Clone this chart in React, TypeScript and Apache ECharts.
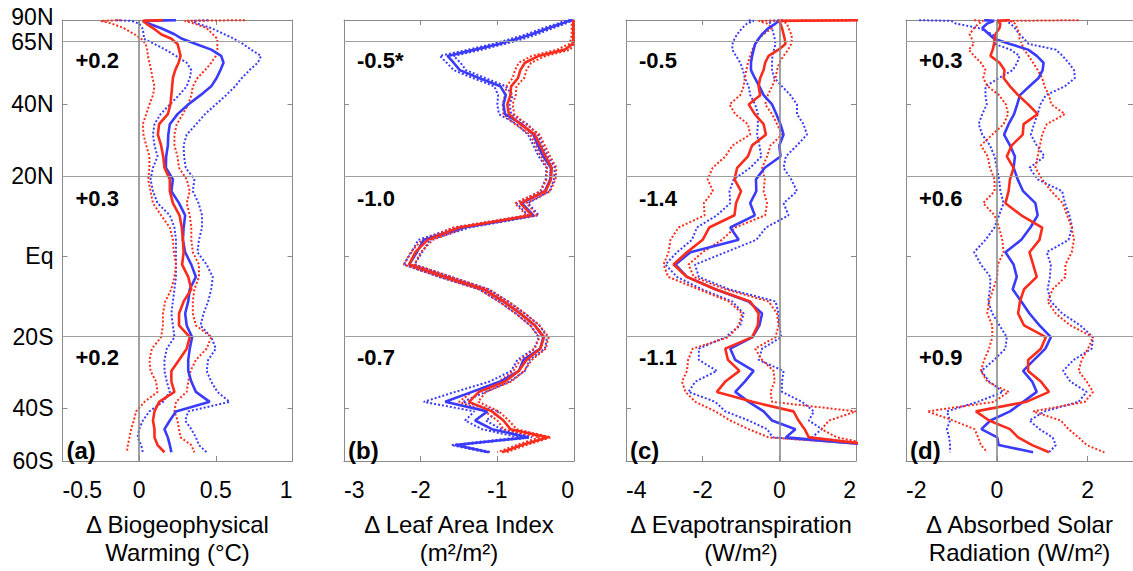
import React, { useEffect, useRef } from 'react';
import * as echarts from 'echarts';

// Latitudes (degrees) at which the profiles were read, north to south
const LAT = [88, 85, 80, 75, 70, 67, 64, 61, 58, 55, 52, 49, 46, 43, 40, 37, 34, 31, 28, 25, 22, 19, 16, 13, 10, 7, 4, 1, -2, -5, -8, -11, -14, -17, -20, -23, -26, -29, -32, -35, -38, -41, -44, -47, -50, -53, -56];

const Y_LABEL_LATS = [90, 65, 40, 20, 0, -20, -40, -60];
const Y_LABELS = ['90N', '65N', '40N', '20N', 'Eq', '20S', '40S', '60S'];
const GRID_LINE_LATS = [65, 20, -20];
const INNER_TICK_LATS = [40, 0, -40];

// (a) Biogeophysical warming
const A_BLUE = [0.24, 0.035, 0.06, 0.14, 0.23, 0.28, 0.37, 0.47, 0.535, 0.55, 0.53, 0.505, 0.47, 0.40, 0.32, 0.25, 0.20, 0.19, 0.187, 0.176, 0.174, 0.22, 0.21, 0.26, 0.30, 0.29, 0.285, 0.30, 0.34, 0.37, 0.33, 0.32, 0.30, 0.31, 0.345, 0.33, 0.32, 0.32, 0.34, 0.37, 0.46, 0.24, 0.20, 0.165, 0.187, 0.20, 0.21];
const A_RED = [0.154, 0.024, 0.046, 0.09, 0.143, 0.21, 0.25, 0.26, 0.27, 0.257, 0.235, 0.22, 0.215, 0.21, 0.204, 0.187, 0.13, 0.122, 0.143, 0.157, 0.165, 0.20, 0.20, 0.22, 0.263, 0.278, 0.285, 0.29, 0.28, 0.32, 0.34, 0.29, 0.26, 0.26, 0.33, 0.31, 0.26, 0.21, 0.21, 0.23, 0.13, 0.10, 0.09, 0.10, 0.10, 0.12, 0.165];
const A_BLUE_HI = [0.45, 0.34, 0.38, 0.47, 0.556, 0.62, 0.676, 0.73, 0.795, 0.774, 0.72, 0.67, 0.626, 0.567, 0.50, 0.43, 0.372, 0.31, 0.29, 0.293, 0.304, 0.36, 0.35, 0.387, 0.41, 0.41, 0.39, 0.38, 0.44, 0.48, 0.47, 0.45, 0.42, 0.40, 0.47, 0.50, 0.45, 0.44, 0.47, 0.51, 0.59, 0.32, 0.30, 0.34, 0.37, 0.39, 0.44];
const A_BLUE_LO = [-0.15, -0.05, 0.0, 0.02, 0.03, 0.03, 0.10, 0.17, 0.24, 0.31, 0.34, 0.33, 0.31, 0.26, 0.20, 0.14, 0.10, 0.09, 0.10, 0.12, 0.09, 0.074, 0.09, 0.12, 0.20, 0.23, 0.24, 0.24, 0.24, 0.24, 0.23, 0.22, 0.21, 0.22, 0.23, 0.18, 0.165, 0.165, 0.18, 0.20, 0.155, 0.067, 0.024, 0.0, -0.01, 0.013, 0.024];
const A_RED_HI = [0.69, 0.296, 0.36, 0.44, 0.48, 0.51, 0.51, 0.51, 0.50, 0.47, 0.43, 0.38, 0.35, 0.34, 0.32, 0.285, 0.245, 0.23, 0.23, 0.25, 0.26, 0.31, 0.33, 0.31, 0.33, 0.34, 0.34, 0.35, 0.39, 0.39, 0.36, 0.35, 0.35, 0.37, 0.47, 0.44, 0.37, 0.335, 0.32, 0.31, 0.24, 0.23, 0.25, 0.26, 0.27, 0.34, 0.36];
const A_RED_LO = [-0.12, -0.25, -0.18, -0.10, -0.03, 0.013, 0.043, 0.052, 0.057, 0.067, 0.078, 0.087, 0.10, 0.09, 0.067, 0.046, 0.024, 0.028, 0.046, 0.067, 0.067, 0.059, 0.074, 0.09, 0.143, 0.20, 0.22, 0.226, 0.24, 0.23, 0.21, 0.17, 0.155, 0.155, 0.143, 0.083, 0.067, 0.074, 0.11, 0.12, 0.035, -0.02, -0.035, -0.052, -0.063, -0.074, -0.08];

// (b) Leaf area index
const B_BLUE = [-0.02, -0.07, -0.16, -0.33, -0.55, -0.74, -0.98, -1.29, -1.65, -1.57, -1.49, -1.24, -0.96, -0.89, -0.92, -0.90, -0.68, -0.53, -0.47, -0.40, -0.30, -0.31, -0.38, -0.68, -0.53, -1.45, -1.96, -2.05, -2.15, -1.68, -1.18, -0.92, -0.70, -0.51, -0.40, -0.44, -0.66, -0.72, -0.96, -1.33, -1.68, -1.13, -1.29, -1.07, -0.60, -1.55, -1.11];
const B_RED = [-0.01, -0.01, -0.01, -0.01, -0.01, -0.01, -0.02, -0.12, -0.46, -0.64, -0.70, -0.73, -0.82, -0.83, -0.87, -0.85, -0.70, -0.51, -0.44, -0.37, -0.29, -0.30, -0.37, -0.70, -0.55, -1.50, -1.91, -2.07, -2.15, -1.68, -1.18, -0.92, -0.70, -0.51, -0.39, -0.44, -0.62, -0.72, -0.90, -1.24, -1.37, -1.07, -0.92, -0.83, -0.34, -0.68, -0.94];
const B_BLUE_LO = [-0.05, -0.12, -0.22, -0.40, -0.62, -0.82, -1.06, -1.38, -1.75, -1.66, -1.57, -1.32, -1.04, -0.99, -1.0, -0.98, -0.75, -0.60, -0.53, -0.46, -0.36, -0.37, -0.44, -0.75, -0.60, -1.55, -2.03, -2.12, -2.22, -1.76, -1.24, -0.98, -0.76, -0.57, -0.46, -0.52, -0.74, -0.82, -1.10, -1.55, -1.96, -1.30, -1.42, -1.20, -0.72, -1.60, -1.15];
const B_BLUE_HI = [0.0, -0.03, -0.11, -0.27, -0.48, -0.66, -0.90, -1.20, -1.57, -1.48, -1.41, -1.16, -0.89, -0.80, -0.84, -0.82, -0.61, -0.47, -0.41, -0.34, -0.25, -0.26, -0.32, -0.60, -0.46, -1.36, -1.88, -1.98, -2.08, -1.60, -1.11, -0.86, -0.64, -0.45, -0.35, -0.38, -0.58, -0.64, -0.84, -1.15, -1.45, -0.98, -1.15, -0.95, -0.55, -1.50, -1.08];
const B_RED_LO = [-0.02, -0.03, -0.03, -0.03, -0.03, -0.04, -0.06, -0.22, -0.55, -0.72, -0.77, -0.80, -0.88, -0.90, -0.93, -0.92, -0.77, -0.57, -0.50, -0.43, -0.35, -0.36, -0.43, -0.77, -0.62, -1.57, -1.98, -2.13, -2.22, -1.75, -1.24, -0.98, -0.76, -0.57, -0.45, -0.51, -0.70, -0.79, -0.98, -1.33, -1.50, -1.16, -1.00, -0.92, -0.45, -0.75, -1.0];
const B_RED_HI = [0.0, 0.0, 0.0, 0.0, 0.0, 0.0, 0.0, -0.05, -0.37, -0.56, -0.62, -0.65, -0.75, -0.76, -0.80, -0.78, -0.63, -0.45, -0.38, -0.31, -0.23, -0.24, -0.31, -0.62, -0.48, -1.42, -1.84, -2.0, -2.08, -1.60, -1.12, -0.86, -0.64, -0.45, -0.33, -0.37, -0.55, -0.65, -0.82, -1.15, -1.25, -0.98, -0.85, -0.75, -0.30, -0.62, -0.88];

// (c) Evapotranspiration
const C_BLUE = [0.0, -0.02, -0.10, -0.28, -0.45, -0.54, -0.63, -0.67, -0.71, -0.74, -0.74, -0.64, -0.52, -0.41, -0.19, -0.08, 0.03, 0.11, 0.0, 0.03, -0.38, -0.61, -0.60, -0.76, -0.64, -1.28, -1.06, -2.32, -2.71, -2.41, -1.67, -0.80, -0.45, -0.52, -0.70, -1.28, -1.15, -0.67, -0.90, -1.15, -0.80, -0.41, -0.19, 0.42, 0.17, 2.5, null];
const C_RED = [2.5, -0.02, 0.03, 0.07, 0.11, 0.14, 0.16, -0.02, -0.28, -0.37, -0.41, -0.50, -0.54, -0.50, -0.80, -0.64, -0.41, -0.35, -0.71, -0.82, -1.10, -1.17, -1.0, -1.13, -1.17, -1.83, -2.0, -2.41, -2.76, -2.41, -1.67, -0.76, -0.54, -0.56, -0.71, -1.41, -1.34, -1.04, -1.41, -1.63, -0.70, 0.37, 0.50, 0.66, 0.77, 2.5, null];
const C_BLUE_LO = [-0.8, -0.67, -0.84, -0.97, -1.1, -1.17, -1.22, -1.23, -1.13, -1.02, -0.95, -0.90, -0.80, -0.76, -0.63, -0.56, -0.56, -0.58, -0.52, -0.47, -0.76, -1.19, -1.30, -1.28, -1.63, -2.15, -2.28, -2.67, -2.97, -2.67, -2.02, -1.23, -0.93, -1.02, -1.41, -2.10, -2.10, -1.63, -2.19, -2.37, -1.67, -1.41, -0.80, -0.32, -0.17, 2.5, null];
const C_BLUE_HI = [0.1, -0.28, -0.23, -0.19, -0.15, -0.12, -0.10, -0.14, -0.18, -0.19, -0.19, -0.13, 0.07, 0.29, 0.46, 0.46, 0.63, 0.72, 0.46, 0.17, 0.11, 0.31, 0.46, 0.11, 0.24, -0.35, -0.6, -1.4, -2.2, -2.10, -1.32, -0.10, -0.02, 0.0, 0.05, -0.45, -0.54, 0.11, 0.07, 0.07, 0.59, 0.90, 0.77, 1.11, 0.85, 2.5, null];
const C_RED_LO = [2.5, -0.54, -0.32, -0.19, -0.41, -0.54, -0.63, -0.70, -0.76, -0.82, -0.86, -0.90, -0.93, -1.02, -1.30, -1.15, -0.82, -0.76, -1.22, -1.41, -1.74, -1.87, -1.73, -1.97, -1.95, -2.63, -2.84, -2.89, -3.02, -2.90, -2.1, -1.32, -0.97, -1.06, -1.32, -2.26, -2.38, -2.41, -2.54, -2.45, -2.19, -1.67, -1.28, -0.80, -0.28, 2.5, null];
const C_RED_HI = [2.5, 0.07, 0.20, 0.24, 0.31, 0.33, 0.31, 0.23, 0.11, 0.0, -0.06, -0.10, -0.19, -0.30, -0.37, -0.19, -0.06, 0.07, -0.23, -0.32, -0.45, -0.38, -0.41, -0.32, -0.37, -1.15, -1.50, -2.0, -2.37, -2.23, -1.41, -0.28, -0.06, -0.02, -0.10, -0.63, -0.45, -0.15, -0.12, -0.23, -0.19, 2.0, 1.3, 1.1, 1.5, 2.5, null];

// (d) Absorbed solar radiation
const D_BLUE = [-0.28, -0.06, -0.21, -0.32, -0.17, -0.06, 0.29, 0.69, 0.88, 1.03, 1.01, 0.92, 0.72, 0.51, 0.45, 0.38, 0.26, 0.16, 0.29, 0.40, 0.37, 0.46, 0.58, 0.85, 0.90, 0.74, 0.54, 0.19, 0.37, 0.44, 0.35, 0.54, 0.72, 0.94, 1.19, 1.07, 0.82, 0.58, 0.78, 0.88, 0.58, 0.29, -0.14, -0.34, 0.01, 0.04, 0.80];
const D_RED = [0.29, 0.01, 0.08, 0.06, -0.03, -0.05, -0.06, -0.09, -0.14, 0.06, 0.17, 0.15, 0.29, 0.47, 0.69, 0.90, 0.59, 0.57, 0.33, 0.22, 0.37, 0.29, 0.26, 0.19, 0.54, 1.0, 0.94, 0.72, 0.80, 0.88, 0.60, 0.51, 0.47, 0.60, 1.08, 0.97, 0.69, 0.69, 0.97, 1.15, 0.65, -0.46, -0.17, 0.29, 0.47, 0.78, 1.15];
const D_BLUE_LO = [-1.71, -1.0, -0.9, -0.4, -0.1, 0.0, -0.05, 0.3, 0.5, 0.45, 0.35, 0.05, -0.25, -0.25, -0.22, -0.32, -0.4, -0.32, -0.15, -0.05, 0.0, 0.05, 0.08, 0.15, 0.05, -0.05, -0.25, -0.5, -0.35, -0.14, -0.15, -0.19, -0.10, 0.06, 0.22, 0.19, -0.06, -0.34, -0.17, 0.14, -0.42, -1.10, -1.03, -1.10, -1.05, -1.03, -1.03];
const D_BLUE_HI = [0.0, 0.2, 0.3, 0.4, 0.5, 0.6, 0.7, 1.3, 1.45, 1.58, 1.7, 1.72, 1.5, 1.08, 0.96, 0.9, 0.82, 0.75, 0.88, 1.05, 0.72, 0.9, 1.44, 1.5, 1.6, 1.66, 1.58, 1.1, 1.19, 1.17, 1.12, 1.19, 1.44, 1.84, 2.12, 2.09, 1.69, 1.46, 1.62, 1.98, 1.80, 1.05, 0.72, 0.94, 1.23, 1.30, 1.15];
const D_RED_LO = [-0.5, -0.3, -0.4, -0.5, -0.6, -0.55, -0.5, -0.62, -0.5, -0.35, -0.25, -0.3, -0.2, 0.05, 0.2, 0.25, 0.15, -0.1, -0.35, -0.2, -0.15, -0.05, -0.05, -0.3, -0.05, 0.05, 0.12, 0.15, 0.02, 0.01, -0.08, -0.17, -0.21, -0.10, -0.10, -0.17, -0.28, -0.35, -0.21, 0.26, -0.06, -1.53, -0.96, -0.49, -0.41, -0.35, -0.21];
const D_RED_HI = [1.8, 0.3, 0.4, 0.45, 0.5, 0.5, 0.55, 0.6, 0.7, 0.8, 0.9, 1.0, 1.05, 1.15, 1.2, 1.5, 1.1, 1.0, 0.95, 0.9, 0.85, 1.0, 1.2, 1.45, 1.55, 1.65, 1.7, 1.65, 1.51, 1.51, 1.23, 1.12, 1.30, 1.62, 2.12, 2.01, 1.87, 1.80, 1.98, 2.12, 1.94, 0.80, 1.41, 1.58, 1.80, 1.98, 2.37];

const X_MIN = [-0.5, -3, -4, -2];
const X_MAX = [1, 0, 2, 3];
const X_INTERVAL = [0.5, 1, 2, 2];
const TITLES = [
  'Δ Biogeophysical\nWarming (°C)',
  'Δ Leaf Area Index\n(m²/m²)',
  'Δ Evapotranspiration\n(W/m²)',
  'Δ Absorbed Solar\nRadiation (W/m²)',
];
const PANEL_TAGS = ['(a)', '(b)', '(c)', '(d)'];
const ANNOTATIONS = [
  ['+0.2', '+0.3', '+0.2'],
  ['-0.5*', '-1.0', '-0.7'],
  ['-0.5', '-1.4', '-1.1'],
  ['+0.3', '+0.6', '+0.9'],
];

const BLUE = '#3b3bfb';
const RED = '#fb2c1c';
const FONT = '"Liberation Sans", Arial, Helvetica, sans-serif';

const GRID_LEFT = [62.5, 344, 626, 906];
const GRID_W = 230;
const GRID_TOP = 20;
const GRID_H = 445;
const ANN_Y = [60, 198.5, 357];
const TAG_Y = 450;

const toSin = (lat: number) => Math.sin((lat * Math.PI) / 180);
const pts = (vals: (number | null)[]) =>
  vals.map((v, i) => (v == null ? null : [v, toSin(LAT[i])])).filter((p) => p !== null);

const PANEL_DATA = [
  { blueLo: A_BLUE_LO, blueHi: A_BLUE_HI, redLo: A_RED_LO, redHi: A_RED_HI, blue: A_BLUE, red: A_RED },
  { blueLo: B_BLUE_LO, blueHi: B_BLUE_HI, redLo: B_RED_LO, redHi: B_RED_HI, blue: B_BLUE, red: B_RED },
  { blueLo: C_BLUE_LO, blueHi: C_BLUE_HI, redLo: C_RED_LO, redHi: C_RED_HI, blue: C_BLUE, red: C_RED },
  { blueLo: D_BLUE_LO, blueHi: D_BLUE_HI, redLo: D_RED_LO, redHi: D_RED_HI, blue: D_BLUE, red: D_RED },
];

function buildOption() {
  const grid: any[] = [];
  const xAxis: any[] = [];
  const yAxis: any[] = [];
  const series: any[] = [];
  const graphic: any[] = [];
  const yLabelVals = Y_LABEL_LATS.map(toSin);
  const innerTicks = INNER_TICK_LATS.map(toSin);
  const axisColor = '#8a8a8a';

  for (let i = 0; i < 4; i++) {
    grid.push({ left: GRID_LEFT[i], top: GRID_TOP, width: GRID_W, height: GRID_H, containLabel: false });
    const common = {
      gridIndex: i,
      type: 'value',
      min: X_MIN[i],
      max: X_MAX[i],
      interval: X_INTERVAL[i],
      splitLine: { show: false },
      axisLine: { show: true, onZero: false, lineStyle: { color: axisColor, width: 1 } },
      axisTick: { show: true, inside: true, length: 5, lineStyle: { color: axisColor } },
    };
    xAxis.push({
      ...common,
      position: 'bottom',
      axisLabel: {
        show: true,
        color: '#000',
        fontSize: 23,
        fontFamily: FONT,
        margin: 17,
        alignMinLabel: 'left',
        alignMaxLabel: i === 3 ? undefined : 'right',
        showMinLabel: true,
        showMaxLabel: i !== 3,
        formatter: (v: number) => String(v),
      },
      name: TITLES[i],
      nameLocation: 'middle',
      nameGap: 49,
      nameTextStyle: { color: '#000', fontSize: 24, lineHeight: 28, fontFamily: FONT },
    });
    xAxis.push({ ...common, position: 'top', axisLabel: { show: false } });

    const yCommon = {
      gridIndex: i,
      type: 'value',
      min: -toSin(60),
      max: 1,
      splitLine: { show: false },
      axisLine: { show: true, onZero: false, lineStyle: { color: axisColor, width: 1 } },
      axisTick: { show: true, inside: true, length: 5, customValues: innerTicks, lineStyle: { color: axisColor } },
    };
    yAxis.push({
      ...yCommon,
      position: 'left',
      axisLabel: {
        show: i === 0,
        customValues: yLabelVals,
        showMinLabel: true,
        showMaxLabel: true,
        hideOverlap: false,
        color: '#000',
        fontSize: 23,
        fontFamily: FONT,
        margin: 9,
        formatter: (v: number) => {
          let best = 0;
          for (let k = 1; k < yLabelVals.length; k++) {
            if (Math.abs(yLabelVals[k] - v) < Math.abs(yLabelVals[best] - v)) best = k;
          }
          return best === 0 ? '{top|' + Y_LABELS[best] + '}' : Y_LABELS[best];
        },
        rich: {
          top: { fontSize: 23, fontFamily: FONT, color: '#000', padding: [0, 0, 7, 0] },
        },
      },
    });
    yAxis.push({ ...yCommon, position: 'right', axisLabel: { show: false } });

    const xi = 2 * i;
    const markData: any[] = GRID_LINE_LATS.map((l) => ({ yAxis: toSin(l) }));
    if (X_MAX[i] > 0) markData.push({ xAxis: 0, lineStyle: { color: '#8a8a8a', width: 1.6, type: 'solid' } });
    series.push({
      type: 'line',
      xAxisIndex: xi,
      yAxisIndex: xi,
      data: [[X_MIN[i], 0]],
      symbol: 'none',
      silent: true,
      z: 1,
      lineStyle: { width: 0 },
      markLine: {
        silent: true,
        symbol: ['none', 'none'],
        label: { show: false },
        animation: false,
        lineStyle: { color: '#a0a0a0', width: 1, type: 'solid' },
        data: markData,
      },
    });

    const d = PANEL_DATA[i];
    const line = (vals: (number | null)[], color: string, dotted: boolean, z: number) => ({
      type: 'line',
      xAxisIndex: xi,
      yAxisIndex: xi,
      data: pts(vals),
      symbol: 'none',
      showSymbol: false,
      silent: true,
      clip: true,
      z,
      lineStyle: { color, width: dotted ? 2 : 2.6, type: dotted ? 'dotted' : 'solid' },
      itemStyle: { color },
    });
    series.push(line(d.blueLo, BLUE, true, 2));
    series.push(line(d.blueHi, BLUE, true, 2));
    series.push(line(d.redLo, RED, true, 2));
    series.push(line(d.redHi, RED, true, 2));
    series.push(line(d.blue, BLUE, false, 3));
    series.push(line(d.red, RED, false, 4));

    ANNOTATIONS[i].forEach((t, k) => {
      graphic.push({
        type: 'text',
        x: GRID_LEFT[i] + 13,
        y: ANN_Y[k],
        z: 10,
        style: { text: t, fontSize: 22, fontWeight: 'bold', fontFamily: FONT, fill: '#000', verticalAlign: 'middle', textVerticalAlign: 'middle' },
      });
    });
    graphic.push({
      type: 'text',
      x: GRID_LEFT[i] + 4,
      y: TAG_Y,
      z: 10,
      style: { text: PANEL_TAGS[i], fontSize: 24, fontWeight: 'bold', fontFamily: FONT, fill: '#000', verticalAlign: 'middle', textVerticalAlign: 'middle' },
    });
  }

  return {
    animation: false,
    backgroundColor: '#fff',
    textStyle: { fontFamily: FONT },
    grid,
    xAxis,
    yAxis,
    series,
    graphic,
  };
}

export default function App() {
  const ref = useRef<HTMLDivElement>(null);
  useEffect(() => {
    if (!ref.current) return;
    const chart = echarts.init(ref.current, null, { renderer: 'svg' });
    chart.setOption(buildOption() as any);
    return () => chart.dispose();
  }, []);
  return <div ref={ref} style={{ position: 'absolute', left: 0, top: 0, width: 1133, height: 571 }} />;
}
